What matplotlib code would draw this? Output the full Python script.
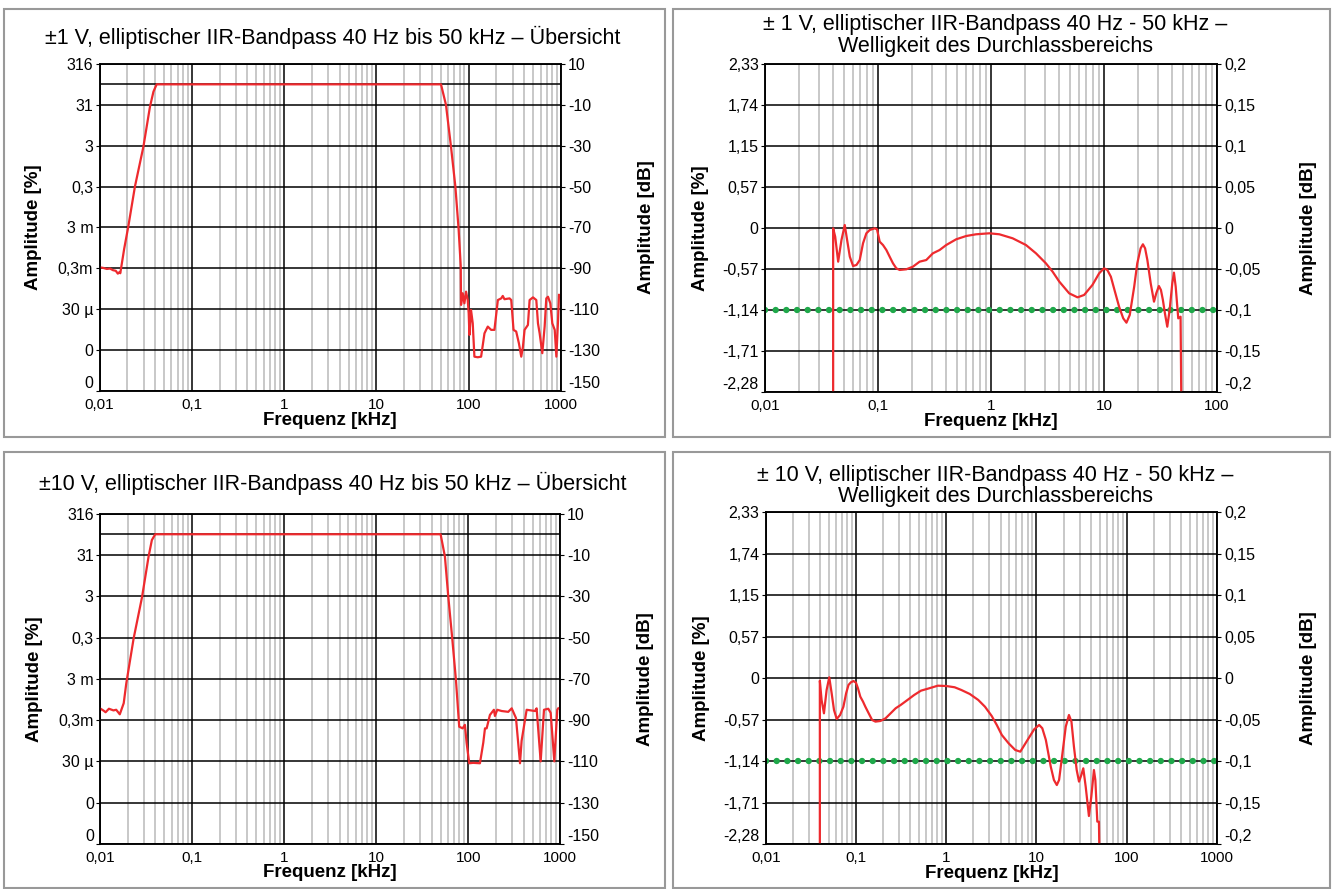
import numpy as np
import matplotlib.pyplot as plt
from matplotlib.patches import Rectangle
from matplotlib.ticker import LogLocator, NullFormatter

plt.rcParams['font.family'] = ['Liberation Sans', 'DejaVu Sans']

# --- Daten (Frequenz in kHz, Amplitude in dB) ---
# +-1 V, Uebersicht
f_1v = [0.010, 0.011, 0.012, 0.013, 0.014, 0.015, 0.0158, 0.0165, 0.0168, 0.0185, 0.0205, 0.0242,
        0.0299, 0.0352, 0.0384, 0.0416, 50.1, 56.7, 64.3, 71.7, 77.8, 82.0, 82.6, 86.1, 89.8, 93.6,
        97.6, 100, 101.8, 106, 110.6, 115.3, 125.4, 136.3, 148.2, 154.5, 161, 175, 190, 207, 225,
        234, 244, 277, 289, 306, 327, 350, 371, 387, 403, 438, 457, 497, 540, 563, 587, 627, 665,
        693, 723, 766, 805, 855, 891, 929, 951]
db_1v = [-89.5, -89.8, -90.3, -90.1, -90.9, -91.2, -92.6, -91.8, -92.4, -80.5, -69.6, -50.0,
         -30.5, -11.0, -3.6, 0.0, 0.0, -10.0, -30.5, -50.0, -71.0, -89.0, -107.9, -102.2, -107.1, -101.4,
         -105.5, -112.0, -122.6, -110.4, -116.9, -133.2, -133.5, -133.2, -121.8, -120.1, -118.5, -120.1,
         -120.1, -105.5, -104.7, -103.5, -105.1, -104.7, -105.5, -120.1, -120.9, -126.7, -133.2, -128.3,
         -120.1, -117.7, -105.5, -104.2, -105.5, -116.9, -121.8, -131.5, -118.5, -104.7, -103.9, -107.1,
         -116.9, -120.1, -133.2, -115.3, -103.0]

# +-10 V, Uebersicht
f_10v = [0.010, 0.011, 0.0115, 0.0125, 0.014, 0.015, 0.0164, 0.0181, 0.0193, 0.0232, 0.0286, 0.0337,
         0.0366, 0.0398, 50.1, 55.8, 60.7, 67, 73.5, 79.8, 86.9, 92, 96, 102.5, 113, 134, 145.6, 152,
         158.5, 172, 190, 195, 206.7, 230.6, 272, 296.5, 330, 365, 380, 431, 531, 553, 612, 665, 741,
         786, 861, 927, 951]
db_10v = [-84.3, -85.5, -86.2, -84.5, -85.3, -85.0, -87.2, -81.8, -72.2, -50.4, -30.5, -10.8,
          -2.8, 0.0, 0.0, -10.8, -30.2, -50.4, -70.5, -93.2, -94.0, -92.3, -101.0, -110.9, -110.7, -110.9,
          -101.0, -94.0, -94.0, -87.5, -85.0, -88.0, -85.0, -85.6, -86.0, -84.3, -89.0, -110.9, -100.0,
          -85.0, -85.6, -84.3, -110.0, -85.0, -84.5, -86.5, -110.0, -85.0, -84.3]

# +-1 V, Welligkeit
fr_1v = [0.0401, 0.0401, 0.0418, 0.0444, 0.0475, 0.0508, 0.0533, 0.0563, 0.0602, 0.0645, 0.0689,
         0.0737, 0.0789, 0.0845, 0.0935, 0.098, 0.1035, 0.1107, 0.1186, 0.1268, 0.1357, 0.1452, 0.1555,
         0.178, 0.2037, 0.2335, 0.2673, 0.306, 0.3507, 0.4014, 0.492, 0.603, 0.738, 0.968, 1.186, 1.555,
         2.04, 2.5, 3.06, 3.51, 4.02, 4.92, 5.83, 6.67, 7.9, 9.06, 10.0, 10.7, 11.5, 12.5, 13.6, 14.8,
         15.8, 16.9, 18.5, 19.7, 21.1, 22.1, 23.1, 24.2, 25.9, 27.7, 29.0, 30.6, 31.9, 33.2, 34.6, 36.3,
         38.1, 40.2, 41.6, 43.1, 45.4, 47.6, 48.6]
dbr_1v = [-0.25, 0.0, -0.0102, -0.0407, -0.0143, 0.004, -0.0143, -0.0346, -0.046, -0.0447, -0.0387,
          -0.0183, -0.0061, -0.0021, 0.0, -0.0012, -0.0163, -0.0204, -0.0265, -0.0346, -0.0427, -0.0488,
          -0.0508, -0.050, -0.0468, -0.0407, -0.0387, -0.0305, -0.0265, -0.0204, -0.0134, -0.0094, -0.0073,
          -0.0061, -0.0073, -0.0122, -0.0204, -0.0305, -0.0427, -0.0529, -0.065, -0.0793, -0.0842, -0.0813,
          -0.0691, -0.0549, -0.0488, -0.0508, -0.059, -0.0773, -0.0956, -0.1098, -0.1151, -0.1057, -0.0712,
          -0.0427, -0.0244, -0.0195, -0.0244, -0.0387, -0.0671, -0.0895, -0.0793, -0.0704, -0.0752,
          -0.0874, -0.1037, -0.120, -0.0996, -0.0671, -0.0541, -0.0712, -0.1098, -0.1078, -0.25]

# +-10 V, Welligkeit
fr_10v = [0.0398, 0.0398, 0.0416, 0.0442, 0.0473, 0.0506, 0.0538, 0.0571, 0.0612, 0.0667, 0.0726,
          0.0778, 0.0826, 0.0879, 0.094, 0.1, 0.1052, 0.1117, 0.1197, 0.127, 0.1384, 0.151, 0.1644,
          0.187, 0.2128, 0.242, 0.2754, 0.3133, 0.3724, 0.4416, 0.525, 0.650, 0.807, 1.0, 1.239, 1.472,
          1.824, 2.264, 2.686, 3.19, 3.63, 4.13, 4.91, 5.82, 6.62, 7.96, 9.42, 10.7, 11.6, 12.7, 14.4,
          15.6, 16.8, 17.8, 19.4, 21.1, 22.9, 24.4, 26.0, 27.9, 29.6, 31.4, 33.0, 35.1, 38.1, 40.5, 43.3,
          44.9, 47.2, 49.2, 50.4]
dbr_10v = [-0.25, -0.0029, -0.0261, -0.0422, -0.0141, 0.0012, -0.0181, -0.0382, -0.049, -0.0442,
           -0.0342, -0.0181, -0.0081, -0.0048, -0.0033, -0.0053, -0.012, -0.0221, -0.0281, -0.0342,
           -0.0422, -0.0502, -0.0522, -0.0514, -0.0482, -0.0422, -0.0361, -0.0321, -0.0261, -0.0201,
           -0.0149, -0.012, -0.0089, -0.0093, -0.0108, -0.0141, -0.0189, -0.0261, -0.0342, -0.0454,
           -0.0562, -0.0683, -0.0783, -0.0864, -0.0884, -0.0743, -0.0615, -0.0562, -0.0602, -0.0743,
           -0.1065, -0.1225, -0.1286, -0.1225, -0.0904, -0.0582, -0.0442, -0.0522, -0.0824, -0.1105,
           -0.1245, -0.1165, -0.1085, -0.1306, -0.1659, -0.1426, -0.1105, -0.1225, -0.1727, -0.1727, -0.25]

ripple_limit = -0.1

# Achsenbeschriftungen
ov_db_ticks = [10, -10, -30, -50, -70, -90, -110, -130, -150]
ov_pct_labels = ["316", "31", "3", "0,3", "3 m", "0,3m", "30 µ", "0", "0"]
ov_db_labels = ["10", "-10", "-30", "-50", "-70", "-90", "-110", "-130", "-150"]
rp_db_ticks = [0.2, 0.15, 0.1, 0.05, 0, -0.05, -0.1, -0.15, -0.2]
rp_pct_labels = ["2,33", "1,74", "1,15", "0,57", "0", "-0,57", "-1,14", "-1,71", "-2,28"]
rp_db_labels = ["0,2", "0,15", "0,1", "0,05", "0", "-0,05", "-0,1", "-0,15", "-0,2"]
x_ticks = [0.01, 0.1, 1, 10, 100, 1000]
x_labels = ["0,01", "0,1", "1", "10", "100", "1000"]

titles = ["±1 V, elliptischer IIR-Bandpass 40 Hz bis 50 kHz – Übersicht",
          "± 1 V, elliptischer IIR-Bandpass 40 Hz - 50 kHz –\nWelligkeit des Durchlassbereichs",
          "±10 V, elliptischer IIR-Bandpass 40 Hz bis 50 kHz – Übersicht",
          "± 10 V, elliptischer IIR-Bandpass 40 Hz - 50 kHz –\nWelligkeit des Durchlassbereichs"]

W, H = 1333, 889
RED = "#ee2a2e"
GREEN = "#1fa84a"

fig = plt.figure(figsize=(W / 100, H / 100), dpi=100)


def px(l, t, r, b):
    return [l / W, 1 - b / H, (r - l) / W, (b - t) / H]


# graue Rahmen um die Diagramme
for (l, t, r, b) in [(4, 9, 665, 437), (673, 9, 1330, 437), (4, 452, 665, 888), (673, 452, 1330, 888)]:
    fig.patches.append(Rectangle((l / W, 1 - b / H), (r - l) / W, (b - t) / H, transform=fig.transFigure,
                                 fill=False, edgecolor="#999999", lw=1.5))


def setup(ax, xmax, ylim, ticks, left_labels, right_labels, extra_zero):
    ax.set_xscale("log")
    ax.set_xlim(0.01, xmax)
    ax.set_ylim(*ylim)
    xt = [x for x in x_ticks if x <= xmax]
    ax.set_xticks(xt)
    ax.set_xticklabels(x_labels[:len(xt)])
    ax.xaxis.set_minor_locator(LogLocator(base=10, subs=np.arange(2, 10)))
    ax.xaxis.set_minor_formatter(NullFormatter())
    ax.set_yticks(ticks)
    ax.set_yticklabels(left_labels)
    ax.set_axisbelow(True)
    ax.grid(which="minor", axis="x", color="#c4c4c4", lw=1.3)
    ax.grid(which="major", axis="both", color="black", lw=1.1)
    if extra_zero:
        ax.axhline(0, color="black", lw=1.1, zorder=1)
    ax.tick_params(axis="x", which="both", length=0, labelsize=11, pad=5)
    ax.tick_params(axis="y", length=3, labelsize=11.5, pad=1.5)
    ax2 = ax.twinx()
    ax2.set_ylim(*ylim)
    ax2.set_yticks(ticks)
    ax2.set_yticklabels(right_labels)
    ax2.tick_params(axis="y", length=3, labelsize=11.5, pad=2)
    # unterste Beschriftung sitzt etwas hoeher
    ax.get_yticklabels()[-1].set_va("bottom")
    ax2.get_yticklabels()[-1].set_va("bottom")
    ax.set_xlabel("Frequenz [kHz]", fontsize=13.5, fontweight="bold")
    ax.set_ylabel("Amplitude [%]", fontsize=13.5, fontweight="bold")
    ax2.set_ylabel("Amplitude [dB]", fontsize=13.5, fontweight="bold", rotation=90)
    for s in list(ax.spines.values()) + list(ax2.spines.values()):
        s.set_linewidth(1.1)
    return ax2


def dotted_limit(ax):
    ax.axhline(ripple_limit, color=GREEN, lw=4.6, dashes=(0.01, 1.66), dash_capstyle="round", zorder=2)


# oben links
ax1 = fig.add_axes(px(99.5, 63.9, 561, 391))
a = setup(ax1, 1000, (-150, 10), ov_db_ticks, ov_pct_labels, ov_db_labels, True)
ax1.plot(f_1v, db_1v, color=RED, lw=1.6, zorder=3)
ax1.yaxis.set_label_coords(-0.124, 0.5)
a.yaxis.set_label_coords(1.167, 0.5)
ax1.xaxis.set_label_coords(0.5, -0.064)

# oben rechts
ax2 = fig.add_axes(px(765, 64.3, 1217, 392.3))
a = setup(ax2, 100, (-0.2, 0.2), rp_db_ticks, rp_pct_labels, rp_db_labels, False)
dotted_limit(ax2)
ax2.plot(fr_1v, dbr_1v, color=RED, lw=1.6, zorder=3)
ax2.yaxis.set_label_coords(-0.124, 0.5)
a.yaxis.set_label_coords(1.184, 0.5)
ax2.xaxis.set_label_coords(0.5, -0.064)

# unten links
ax3 = fig.add_axes(px(100, 513.6, 560.3, 844))
a = setup(ax3, 1000, (-150, 10), ov_db_ticks, ov_pct_labels, ov_db_labels, True)
ax3.plot(f_10v, db_10v, color=RED, lw=1.6, zorder=3)
ax3.yaxis.set_label_coords(-0.124, 0.5)
a.yaxis.set_label_coords(1.167, 0.5)
ax3.xaxis.set_label_coords(0.5, -0.062)

# unten rechts
ax4 = fig.add_axes(px(765.7, 512.3, 1217, 844.3))
a = setup(ax4, 1000, (-0.2, 0.2), rp_db_ticks, rp_pct_labels, rp_db_labels, False)
dotted_limit(ax4)
ax4.plot(fr_10v, dbr_10v, color=RED, lw=1.6, zorder=3)
ax4.yaxis.set_label_coords(-0.124, 0.5)
a.yaxis.set_label_coords(1.184, 0.5)
ax4.xaxis.set_label_coords(0.5, -0.062)

# Titel
fig.text(333 / W, 1 - 37 / H, titles[0], ha="center", va="center", fontsize=15.5)
fig.text(995 / W, 1 - 35.5 / H, titles[1], ha="center", va="center", fontsize=15.5, linespacing=1.05)
fig.text(333 / W, 1 - 483 / H, titles[2], ha="center", va="center", fontsize=15.5)
fig.text(995 / W, 1 - 486 / H, titles[3], ha="center", va="center", fontsize=15.5, linespacing=1.05)

plt.savefig("out.png", dpi=100)
